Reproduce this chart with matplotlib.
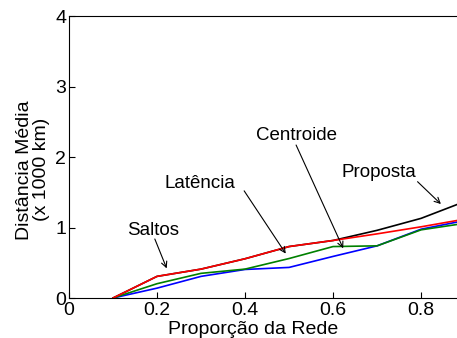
import matplotlib
matplotlib.use("Agg")
import matplotlib.pyplot as plt

plt.rcParams['font.family'] = ['Liberation Sans', 'DejaVu Sans']

x = [0.1, 0.2, 0.3, 0.4, 0.5, 0.6, 0.7, 0.8, 0.9, 1.0]
proposta = [0.0, 0.307, 0.41, 0.557, 0.73, 0.816, 0.96, 1.13, 1.37, 1.6]
latencia = [0.0, 0.307, 0.41, 0.557, 0.73, 0.816, 0.91, 1.01, 1.12, 1.23]
centroide = [0.0, 0.203, 0.35, 0.41, 0.56, 0.73, 0.74, 0.967, 1.06, 1.15]
saltos = [0.0, 0.14, 0.307, 0.405, 0.434, 0.59, 0.74, 0.976, 1.1, 1.2]

xticks = [0, 0.2, 0.4, 0.6, 0.8]
xticklabels = ['0', '0.2', '0.4', '0.6', '0.8']
yticks = [0, 1, 2, 3, 4]

labels = ['Saltos', 'Latência', 'Centroide', 'Proposta']
label_pos = [(0.191, 0.894), (0.298, 1.556), (0.516, 2.241), (0.705, 1.712)]
arrow_start = [(0.195, 0.837), (0.398, 1.52), (0.516, 2.17), (0.792, 1.65)]
arrow_tip = [(0.222, 0.42), (0.4925, 0.63), (0.623, 0.705), (0.845, 1.333)]

fig = plt.figure(figsize=(4.57, 3.38), dpi=100)
ax = fig.add_axes([0.151, 0.1183, 0.963, 0.8343])

ax.plot(x, proposta, color='black', lw=1.2)
ax.plot(x, saltos, color='blue', lw=1.2)
ax.plot(x, centroide, color=(0, 0.5, 0), lw=1.2)
ax.plot(x, latencia, color='red', lw=1.2)

ax.set_xlim(0, 1)
ax.set_ylim(0, 4)
ax.set_xticks(xticks)
ax.set_xticklabels(xticklabels)
ax.set_yticks(yticks)
ax.tick_params(direction='in', length=4, labelsize=14, pad=3)
ax.tick_params(axis='y', pad=2)
ax.set_xlabel('Proporção da Rede', fontsize=14, labelpad=1)
ax.xaxis.label.set_x(0.418)
ax.set_ylabel('Distância Média\n(x 1000 km)', fontsize=14, labelpad=4, linespacing=1.0)
ax.yaxis.label.set_y(0.455)

arrow = dict(arrowstyle='->', color='black', lw=0.8, shrinkA=0, shrinkB=0)
for lab, (tx, ty), s, t in zip(labels, label_pos, arrow_start, arrow_tip):
    ax.text(tx, ty, lab, fontsize=13.5, ha='center', va='baseline')
    ax.annotate('', xy=t, xytext=s, arrowprops=arrow)

fig.savefig('out.png', dpi=100)
